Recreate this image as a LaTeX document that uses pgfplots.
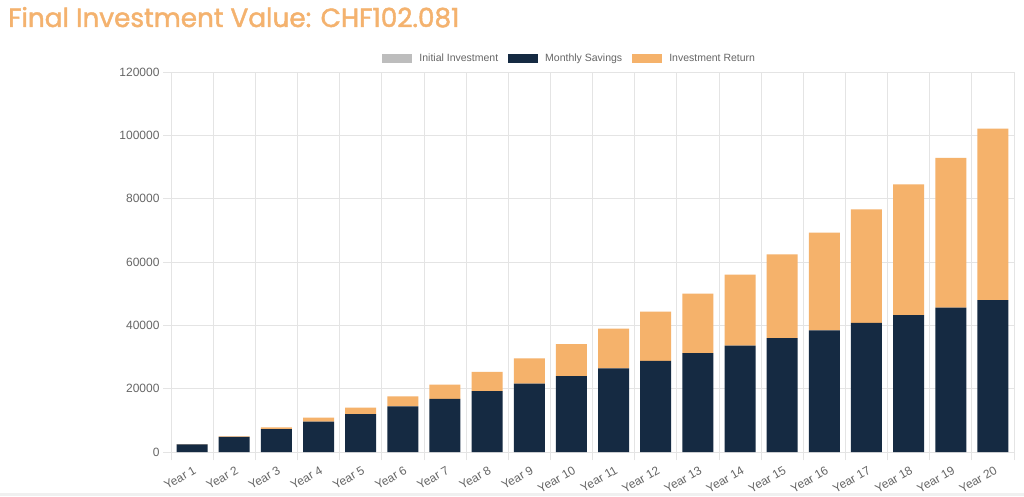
\documentclass[border=0pt]{standalone}
\usepackage{pgfplots}
\pgfplotsset{compat=1.18}
\usepackage{fontspec}
\setmainfont{Liberation Sans}
\newfontfamily\titlefont{Poppins}[FakeBold=1.6]
\definecolor{navy}{HTML}{152A42}
\definecolor{orng}{HTML}{F5B26B}
\definecolor{titlec}{HTML}{F4B26E}
\definecolor{lgray}{HTML}{BDBDBD}
\definecolor{txt}{HTML}{666666}
\definecolor{gridc}{HTML}{E4E4E4}
\begin{document}
\begin{tikzpicture}[x=1pt,y=1pt]
\path[use as bounding box] (0,0) rectangle (1024,496);
\fill[white] (0,0) rectangle (1024,496);
\fill[black!6] (0,0) rectangle (1024,3);
\node[anchor=base west, text=titlec, font=\titlefont\fontsize{26.3}{30}\selectfont, inner sep=0pt] at (8,469) {Final Investment Value: CHF102.081};
\begin{axis}[
  at={(171pt,44pt)}, anchor=south west,
  scale only axis, width=843pt, height=380pt,
  ybar stacked, bar width=31pt,
  xmin=0.5, xmax=20.5, ymin=0, ymax=120000,
  xtick={1,...,20},
  xticklabels={Year 1,Year 2,Year 3,Year 4,Year 5,Year 6,Year 7,Year 8,Year 9,Year 10,Year 11,Year 12,Year 13,Year 14,Year 15,Year 16,Year 17,Year 18,Year 19,Year 20},
  minor xtick={0.5,1.5,...,20.5},
  ytick={0,20000,40000,60000,80000,100000,120000},
  yticklabels={0,20000,40000,60000,80000,100000,120000},
  xminorgrids=true, xmajorgrids=false, ymajorgrids=true,
  grid style={draw=gridc, line width=0.8pt},
  minor grid style={draw=gridc, line width=0.8pt},
  axis lines*=left,
  axis line style={draw=gridc, line width=0.8pt},
  tick align=outside,
  major tick length=8pt, minor tick length=8pt,
  major x tick style={draw=none},
  minor x tick style={draw=gridc, line width=0.8pt},
  y tick style={draw=gridc, line width=0.8pt},
  scaled y ticks=false,
  yticklabel style={font=\fontsize{12}{14}\selectfont, text=txt},
  xticklabel style={font=\fontsize{12}{14}\selectfont, text=txt, rotate=30, anchor=north east, inner sep=2pt, yshift=-3pt},
  legend image code/.code={\fill[#1,draw=none] (0pt,-4.5pt) rectangle (30pt,4.5pt);},
  legend style={at={(0.473,1.036)}, anchor=center, draw=none, fill=none,
    font=\fontsize{10.5}{12}\selectfont, text=txt, legend columns=3,
    /tikz/every odd column/.append style={column sep=5pt},
    /tikz/every even column/.append style={column sep=8pt}},
  legend cell align=left,
]
\addlegendimage{fill=lgray, draw=none}
\addlegendentry{Initial Investment}
\addplot[fill=navy, draw=none] coordinates {
(1,2400) (2,4800) (3,7200) (4,9600) (5,12000) (6,14400) (7,16800) (8,19200) (9,21600) (10,24000)
(11,26400) (12,28800) (13,31200) (14,33600) (15,36000) (16,38400) (17,40800) (18,43200) (19,45600) (20,48000)};
\addlegendentry{Monthly Savings}
\addplot[fill=orng, draw=none] coordinates {
(1,60) (2,160) (3,600) (4,1250) (5,2000) (6,3200) (7,4500) (8,6100) (9,8000) (10,10100)
(11,12600) (12,15500) (13,18800) (14,22400) (15,26400) (16,30900) (17,35800) (18,41300) (19,47300) (20,54081)};
\addlegendentry{Investment Return}
\end{axis}
\end{tikzpicture}
\end{document}
